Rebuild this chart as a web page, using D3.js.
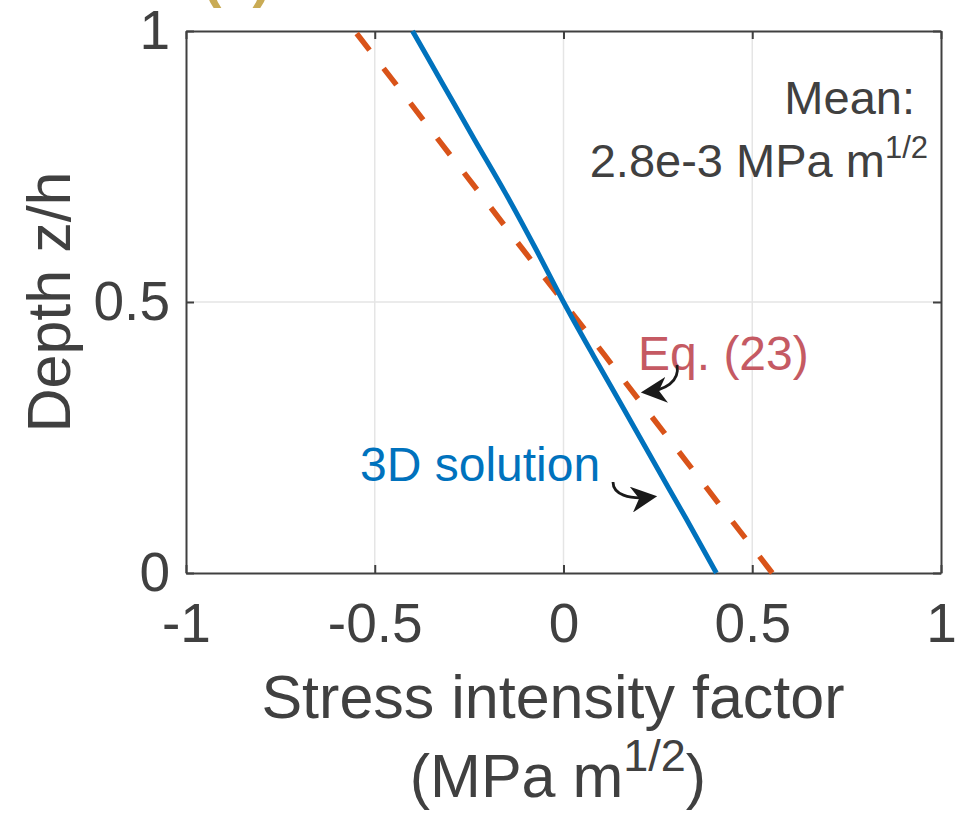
<!DOCTYPE html>
<html>
<head>
<meta charset="utf-8">
<script src="https://cdn.jsdelivr.net/npm/d3@7"></script>
<style>
  body { margin: 0; background: #ffffff; }
  text { font-family: "Liberation Sans", Arial, sans-serif; }
</style>
</head>
<body>
<script>
// Depth (z/h) sample points and stress intensity factor values
var depth = [0, 0.1, 0.2, 0.3, 0.4, 0.5, 0.6, 0.7, 0.8, 0.9, 1.0];
var sif3D = [0.405, 0.325, 0.243, 0.162, 0.08, 0.0, -0.075, -0.153, -0.236, -0.318, -0.40];
var sifEq23 = [0.553, 0.442, 0.332, 0.221, 0.111, 0.0, -0.111, -0.221, -0.332, -0.442, -0.553];
var xTicks = [-1, -0.5, 0, 0.5, 1];
var yTicks = [0, 0.5, 1];

var width = 958,
	height = 821;
var plotLeft = 186, plotRight = 941, plotTop = 31, plotBottom = 573;
var textColor = "#404040";

var svg = d3.select("body").append("svg")
	.attr("width", width)
	.attr("height", height);

var x = d3.scaleLinear().domain([-1, 1]).range([plotLeft, plotRight]);
var y = d3.scaleLinear().domain([0, 1]).range([plotBottom, plotTop]);

// grid
svg.append("g")
	.selectAll("line")
	.data(xTicks.slice(1, -1))
	.enter().append("line")
	.attr("x1", function(d) { return x(d); })
	.attr("x2", function(d) { return x(d); })
	.attr("y1", plotTop).attr("y2", plotBottom)
	.attr("stroke", "#e5e5e5").attr("stroke-width", 1.5);
svg.append("g")
	.selectAll("line")
	.data(yTicks.slice(1, -1))
	.enter().append("line")
	.attr("x1", plotLeft).attr("x2", plotRight)
	.attr("y1", function(d) { return y(d); })
	.attr("y2", function(d) { return y(d); })
	.attr("stroke", "#e5e5e5").attr("stroke-width", 1.5);

// axes (MATLAB style: ticks pointing inwards, box on)
function styleAxis(g) {
	g.select(".domain").attr("stroke", textColor).attr("stroke-width", 2);
	g.selectAll(".tick line").attr("stroke", textColor).attr("stroke-width", 2);
	g.selectAll(".tick text")
		.attr("fill", textColor)
		.style("font-size", "55px")
		.style("font-family", "Liberation Sans, Arial, sans-serif");
}
var fmt = function(d) { return String(d); };

svg.append("g")
	.attr("transform", "translate(0," + plotBottom + ")")
	.call(d3.axisBottom(x).tickValues(xTicks).tickFormat(fmt).tickSizeInner(-8).tickSizeOuter(0).tickPadding(30))
	.call(styleAxis);
svg.append("g")
	.attr("transform", "translate(0," + plotTop + ")")
	.call(d3.axisTop(x).tickValues(xTicks).tickFormat("").tickSizeInner(-8).tickSizeOuter(0))
	.call(styleAxis);
svg.append("g")
	.attr("transform", "translate(" + plotLeft + ",0)")
	.call(d3.axisLeft(y).tickValues(yTicks).tickFormat(fmt).tickSizeInner(-8).tickSizeOuter(0).tickPadding(16))
	.call(styleAxis);
svg.append("g")
	.attr("transform", "translate(" + plotRight + ",0)")
	.call(d3.axisRight(y).tickValues(yTicks).tickFormat("").tickSizeInner(-8).tickSizeOuter(0))
	.call(styleAxis);

// lines
var line3D = d3.line()
	.x(function(d, i) { return x(sif3D[i]); })
	.y(function(d) { return y(d); })
	.curve(d3.curveMonotoneY);
var lineEq = d3.line()
	.x(function(d, i) { return x(sifEq23[i]); })
	.y(function(d) { return y(d); });

svg.append("path")
	.datum(depth)
	.attr("d", lineEq)
	.attr("fill", "none")
	.attr("stroke", "#D95319")
	.attr("stroke-width", 5.5)
	.attr("stroke-dasharray", "21,23");
svg.append("path")
	.datum(depth)
	.attr("d", line3D)
	.attr("fill", "none")
	.attr("stroke", "#0072BD")
	.attr("stroke-width", 5);

// axis labels
svg.append("text")
	.attr("transform", "translate(70," + ((plotTop + plotBottom) / 2) + ") rotate(-90)")
	.attr("text-anchor", "middle")
	.attr("fill", textColor)
	.style("font-size", "61px")
	.text("Depth z/h");

svg.append("text")
	.attr("x", 553)
	.attr("y", 718)
	.attr("text-anchor", "middle")
	.attr("fill", textColor)
	.style("font-size", "61px")
	.text("Stress intensity factor");

var xl2 = svg.append("text")
	.attr("x", 558)
	.attr("y", 797)
	.attr("text-anchor", "middle")
	.attr("fill", textColor)
	.style("font-size", "61px");
xl2.append("tspan").text("(MPa m");
xl2.append("tspan").attr("dy", -26).style("font-size", "45px").text("1/2");
xl2.append("tspan").attr("dy", 26).text(")");

// annotations
svg.append("text")
	.attr("x", 915).attr("y", 114)
	.attr("text-anchor", "end")
	.attr("fill", textColor)
	.style("font-size", "47px")
	.text("Mean:");
var mean = svg.append("text")
	.attr("x", 928).attr("y", 177)
	.attr("text-anchor", "end")
	.attr("fill", textColor)
	.style("font-size", "47px");
mean.append("tspan").text("2.8e-3 MPa m");
mean.append("tspan").attr("dy", -19).style("font-size", "31px").text("1/2");

svg.append("text")
	.attr("x", 638).attr("y", 370)
	.attr("fill", "#C55A63")
	.style("font-size", "48px")
	.text("Eq. (23)");
svg.append("text")
	.attr("x", 360).attr("y", 481)
	.attr("fill", "#0072BD")
	.style("font-size", "48px")
	.text("3D solution");

// curved arrows
svg.append("defs").append("marker")
	.attr("id", "head")
	.attr("viewBox", "0 0 10 10")
	.attr("refX", 8).attr("refY", 5)
	.attr("markerWidth", 26).attr("markerHeight", 26)
	.attr("markerUnits", "userSpaceOnUse")
	.attr("orient", "auto")
	.append("path")
	.attr("d", "M0,0 L10,5 L0,10 L3,5 Z")
	.attr("fill", "#1a1a1a");

svg.append("path")
	.attr("d", "M677,365 C680,382 665,390 646,392")
	.attr("fill", "none").attr("stroke", "#1a1a1a").attr("stroke-width", 2.8)
	.attr("marker-end", "url(#head)");

svg.append("path")
	.attr("d", "M613,482 C613,494 628,500 652,497")
	.attr("fill", "none").attr("stroke", "#1a1a1a").attr("stroke-width", 2.8)
	.attr("marker-end", "url(#head)");

// panel label cut off at top edge
svg.append("text")
	.attr("x", 237).attr("y", -4)
	.attr("text-anchor", "middle")
	.attr("fill", "#C9AB55")
	.style("font-size", "56px")
	.style("font-weight", "bold")
	.text("(c)");
</script>
</body>
</html>
